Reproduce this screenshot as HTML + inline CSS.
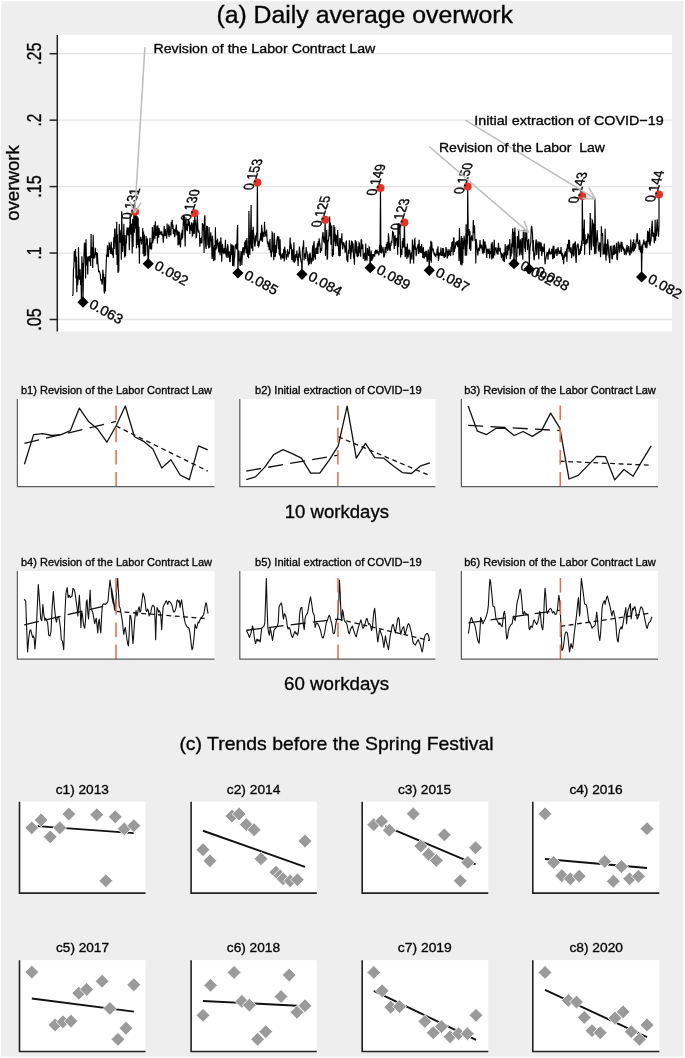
<!DOCTYPE html>
<html><head><meta charset="utf-8"><style>
html,body{margin:0;padding:0;background:#fff;}
svg{display:block;font-family:"Liberation Sans", sans-serif;will-change:transform;}
text{stroke:#111;stroke-width:0.36px;}
</style></head><body>
<svg width="685" height="1058" viewBox="0 0 685 1058">
<rect x="0" y="0" width="685" height="1058" fill="#fff"/>
<rect x="1.2" y="1.2" width="682.3" height="1055.3" fill="#eeeeee"/>
<rect x="57.5" y="35" width="614.5" height="296.5" fill="#fff"/>
<line x1="57.5" x2="672" y1="319.50" y2="319.50" stroke="#e4e4e4" stroke-width="1.3"/>
<line x1="57.5" x2="672" y1="253.05" y2="253.05" stroke="#e4e4e4" stroke-width="1.3"/>
<line x1="57.5" x2="672" y1="186.60" y2="186.60" stroke="#e4e4e4" stroke-width="1.3"/>
<line x1="57.5" x2="672" y1="120.15" y2="120.15" stroke="#e4e4e4" stroke-width="1.3"/>
<line x1="57.5" x2="672" y1="53.70" y2="53.70" stroke="#e4e4e4" stroke-width="1.3"/>
<text x="216.40" y="23.20" font-size="23" textLength="296.50" lengthAdjust="spacingAndGlyphs">(a) Daily average overwork</text>
<line x1="49.6" x2="57.5" y1="319.50" y2="319.50" stroke="#222" stroke-width="1.5"/>
<text x="0.00" y="0.00" font-size="19.5" textLength="22.50" lengthAdjust="spacingAndGlyphs" text-anchor="middle" transform="translate(40.6,319.50) rotate(-90)">.05</text>
<line x1="49.6" x2="57.5" y1="253.05" y2="253.05" stroke="#222" stroke-width="1.5"/>
<text x="0.00" y="0.00" font-size="19.5" textLength="12.80" lengthAdjust="spacingAndGlyphs" text-anchor="middle" transform="translate(40.6,253.05) rotate(-90)">.1</text>
<line x1="49.6" x2="57.5" y1="186.60" y2="186.60" stroke="#222" stroke-width="1.5"/>
<text x="0.00" y="0.00" font-size="19.5" textLength="22.50" lengthAdjust="spacingAndGlyphs" text-anchor="middle" transform="translate(40.6,186.60) rotate(-90)">.15</text>
<line x1="49.6" x2="57.5" y1="120.15" y2="120.15" stroke="#222" stroke-width="1.5"/>
<text x="0.00" y="0.00" font-size="19.5" textLength="12.80" lengthAdjust="spacingAndGlyphs" text-anchor="middle" transform="translate(40.6,120.15) rotate(-90)">.2</text>
<line x1="49.6" x2="57.5" y1="53.70" y2="53.70" stroke="#222" stroke-width="1.5"/>
<text x="0.00" y="0.00" font-size="19.5" textLength="22.50" lengthAdjust="spacingAndGlyphs" text-anchor="middle" transform="translate(40.6,53.70) rotate(-90)">.25</text>
<text x="0.00" y="0.00" font-size="19" textLength="75.70" lengthAdjust="spacingAndGlyphs" text-anchor="middle" transform="translate(19.2,183) rotate(-90)">overwork</text>
<line x1="57.3" x2="57.3" y1="35" y2="331.5" stroke="#222" stroke-width="1.5"/>
<path d="M72.60,296.00 L73.02,294.05 L73.44,269.48 L73.86,267.08 L74.28,250.80 L74.70,260.45 L75.12,261.45 L75.54,249.02 L75.96,278.37 L76.38,256.58 L76.80,292.14 L77.22,275.64 L77.64,285.22 L78.06,279.74 L78.48,247.27 L78.90,265.01 L79.32,279.22 L79.74,279.39 L80.16,269.17 L80.58,285.00 L81.00,276.10 L81.42,303.13 L81.84,256.33 L82.26,268.74 L82.68,262.95 L83.00,302.22 L83.52,267.76 L83.94,257.48 L84.36,244.13 L84.78,242.65 L85.20,254.14 L85.62,278.58 L86.04,239.22 L86.46,265.46 L86.88,257.64 L87.30,256.55 L87.72,274.57 L88.14,258.45 L88.56,257.78 L88.98,256.06 L89.40,261.48 L89.82,258.80 L90.24,255.62 L90.66,266.08 L91.08,234.11 L91.50,257.36 L91.92,257.61 L92.34,247.27 L92.76,268.06 L93.18,234.83 L93.60,252.03 L94.02,258.57 L94.44,254.88 L94.86,257.63 L95.28,247.83 L95.70,254.47 L96.12,254.66 L96.54,252.07 L96.96,264.26 L97.38,252.73 L97.80,262.02 L98.22,266.60 L98.64,272.10 L99.06,270.86 L99.48,270.99 L99.90,273.88 L100.32,274.49 L100.74,279.91 L101.16,280.59 L101.58,280.02 L102.00,284.61 L102.42,282.46 L102.84,269.65 L103.26,275.05 L103.68,274.77 L104.10,291.01 L104.52,293.58 L104.94,276.95 L105.36,291.47 L105.78,275.49 L106.20,264.04 L106.62,254.61 L107.04,256.82 L107.46,245.38 L107.88,250.98 L108.30,257.17 L108.72,252.18 L109.14,243.06 L109.56,243.75 L109.98,249.33 L110.40,249.30 L110.82,253.91 L111.24,241.86 L111.66,254.27 L112.08,247.67 L112.50,255.14 L112.92,253.77 L113.34,258.10 L113.76,237.26 L114.18,249.02 L114.60,229.54 L115.02,228.47 L115.44,239.51 L115.86,246.44 L116.28,254.86 L116.70,221.71 L117.12,264.98 L117.54,234.19 L117.96,272.94 L118.38,270.26 L118.80,270.62 L119.22,223.93 L119.64,240.79 L120.06,242.64 L120.48,235.61 L120.90,229.88 L121.32,259.79 L121.74,211.27 L122.16,237.84 L122.58,251.89 L123.00,234.79 L123.42,245.86 L123.84,223.80 L124.26,247.54 L124.68,257.38 L125.10,235.06 L125.52,256.27 L125.94,243.33 L126.36,243.08 L126.78,230.96 L127.20,227.27 L127.62,232.12 L128.04,235.38 L128.46,228.59 L128.88,228.03 L129.30,250.24 L129.72,235.16 L130.14,214.60 L130.56,222.33 L130.98,234.60 L131.40,223.79 L131.82,233.37 L132.24,253.56 L132.66,218.78 L133.08,246.91 L133.50,222.96 L133.90,214.00 L134.34,232.77 L134.76,218.49 L135.10,211.85 L135.60,228.72 L136.02,210.94 L136.44,248.15 L136.86,238.31 L137.28,216.27 L137.70,244.99 L138.12,217.65 L138.54,247.59 L138.96,226.86 L139.38,263.76 L139.80,238.67 L140.22,241.26 L140.64,236.80 L141.06,240.01 L141.48,244.50 L141.90,239.40 L142.32,242.34 L142.74,228.07 L143.16,253.87 L143.58,231.40 L144.00,256.53 L144.42,234.43 L144.84,256.01 L145.26,244.20 L145.68,255.50 L146.10,236.00 L146.52,244.96 L146.94,240.48 L147.36,238.44 L147.78,254.73 L148.20,263.68 L148.62,256.59 L149.04,245.63 L149.46,245.52 L149.88,237.78 L150.30,249.30 L150.72,242.46 L151.14,248.36 L151.56,249.55 L151.98,240.46 L152.40,226.96 L152.82,243.19 L153.24,231.45 L153.66,240.49 L154.08,224.97 L154.50,233.90 L154.92,238.75 L155.34,221.20 L155.76,230.66 L156.18,235.59 L156.60,232.41 L157.02,225.81 L157.44,243.50 L157.86,225.32 L158.28,233.99 L158.70,237.70 L159.12,228.05 L159.54,234.94 L159.96,230.75 L160.38,232.90 L160.80,233.86 L161.22,234.34 L161.64,231.38 L162.06,234.55 L162.48,234.50 L162.90,237.16 L163.32,242.60 L163.74,235.71 L164.16,226.14 L164.58,232.00 L165.00,236.06 L165.42,229.16 L165.84,235.55 L166.26,236.20 L166.68,238.65 L167.10,223.41 L167.52,232.09 L167.94,229.07 L168.36,235.49 L168.78,224.46 L169.20,237.05 L169.62,226.39 L170.04,234.92 L170.46,230.27 L170.88,235.36 L171.30,222.06 L171.72,225.82 L172.14,219.85 L172.56,228.85 L172.98,224.59 L173.40,234.25 L173.82,231.70 L174.24,228.99 L174.66,237.24 L175.08,234.99 L175.50,230.14 L175.92,228.21 L176.34,224.44 L176.76,234.32 L177.18,233.72 L177.60,230.15 L178.02,245.43 L178.44,231.48 L178.86,244.40 L179.28,231.85 L179.70,242.20 L180.12,244.89 L180.54,247.37 L180.96,235.48 L181.38,232.85 L181.80,239.71 L182.22,229.88 L182.64,238.25 L183.06,227.78 L183.48,215.75 L183.90,225.87 L184.32,216.02 L184.74,231.25 L185.16,246.56 L185.58,222.62 L186.00,217.41 L186.42,230.33 L186.84,224.08 L187.26,231.30 L187.68,227.37 L188.10,219.46 L188.52,225.68 L188.94,220.87 L189.36,221.58 L189.78,234.05 L190.20,224.70 L190.62,229.50 L191.04,229.91 L191.46,222.46 L191.88,224.62 L192.30,235.81 L192.72,235.10 L193.14,222.67 L193.56,233.68 L193.98,219.99 L194.40,233.77 L194.70,213.18 L195.24,224.79 L195.66,220.63 L196.08,237.56 L196.50,237.14 L196.92,227.76 L197.34,215.09 L197.76,224.87 L198.18,232.39 L198.60,229.80 L199.02,232.03 L199.44,233.32 L199.86,246.75 L200.28,237.96 L200.70,243.19 L201.12,240.16 L201.54,237.37 L201.96,243.40 L202.38,223.90 L202.80,224.19 L203.22,230.54 L203.64,224.48 L204.06,253.11 L204.48,218.41 L204.90,215.20 L205.32,236.41 L205.74,246.73 L206.16,248.95 L206.58,225.64 L207.00,233.13 L207.42,225.93 L207.84,245.60 L208.26,238.54 L208.68,248.41 L209.10,226.94 L209.52,247.16 L209.94,246.85 L210.36,239.42 L210.78,232.35 L211.20,239.99 L211.62,241.38 L212.04,258.94 L212.46,235.88 L212.88,242.24 L213.30,256.88 L213.72,261.14 L214.14,247.85 L214.56,245.12 L214.98,260.24 L215.40,227.31 L215.82,250.17 L216.24,240.18 L216.66,248.77 L217.08,246.47 L217.50,238.48 L217.92,245.59 L218.34,242.73 L218.76,252.53 L219.18,245.43 L219.60,241.58 L220.02,255.30 L220.44,248.22 L220.86,237.22 L221.28,244.55 L221.70,261.85 L222.12,249.73 L222.54,243.89 L222.96,250.78 L223.38,252.99 L223.80,252.16 L224.22,248.07 L224.64,253.69 L225.06,248.01 L225.48,239.85 L225.90,254.11 L226.32,256.57 L226.74,248.64 L227.16,257.89 L227.58,244.06 L228.00,246.17 L228.42,253.40 L228.84,257.64 L229.26,251.18 L229.68,261.07 L230.10,262.08 L230.52,256.91 L230.94,244.64 L231.36,245.25 L231.78,255.21 L232.20,244.46 L232.62,265.98 L233.04,259.52 L233.46,245.41 L233.88,266.35 L234.30,258.60 L234.72,256.42 L235.14,246.12 L235.56,244.94 L235.98,244.52 L236.40,248.41 L236.82,248.88 L237.24,230.45 L237.66,225.09 L237.90,272.99 L238.50,252.98 L238.92,250.58 L239.34,261.09 L239.76,259.34 L240.18,265.90 L240.60,258.38 L241.02,251.74 L241.44,251.93 L241.86,265.15 L242.28,255.55 L242.70,248.66 L243.12,247.14 L243.54,251.46 L243.96,255.20 L244.38,250.35 L244.80,241.74 L245.22,248.89 L245.64,240.19 L246.06,252.22 L246.48,253.29 L246.90,237.92 L247.32,246.71 L247.74,257.02 L248.16,250.22 L248.58,258.29 L248.90,210.90 L249.42,239.49 L249.84,254.76 L250.26,243.68 L250.68,231.02 L251.10,205.00 L251.52,248.51 L251.94,229.81 L252.36,241.65 L252.78,251.18 L253.20,226.78 L253.62,233.67 L254.04,236.66 L254.46,242.91 L254.88,246.62 L255.30,243.44 L255.72,235.37 L256.14,241.45 L256.56,233.28 L256.98,232.50 L257.40,182.61 L257.82,245.92 L258.24,240.82 L258.66,246.46 L259.08,245.69 L259.50,241.37 L259.92,240.04 L260.34,237.93 L260.76,232.88 L261.18,240.61 L261.60,224.74 L262.02,229.13 L262.44,242.03 L262.86,232.43 L263.28,233.09 L263.70,233.70 L264.12,237.07 L264.54,221.70 L264.96,232.83 L265.38,233.27 L265.80,236.36 L266.22,231.62 L266.64,230.76 L267.06,238.19 L267.48,243.68 L267.90,240.93 L268.32,247.00 L268.74,242.44 L269.16,250.25 L269.58,243.76 L270.00,239.03 L270.42,252.40 L270.84,250.80 L271.26,257.10 L271.68,252.75 L272.10,232.46 L272.52,233.25 L272.94,251.71 L273.36,247.00 L273.78,260.11 L274.20,232.78 L274.62,240.11 L275.04,257.07 L275.46,255.45 L275.88,245.08 L276.30,252.94 L276.72,241.71 L277.14,238.94 L277.56,236.12 L277.98,237.90 L278.40,249.35 L278.82,236.60 L279.24,254.37 L279.66,254.87 L280.08,239.36 L280.50,256.59 L280.92,259.63 L281.34,255.65 L281.76,256.33 L282.18,253.43 L282.60,257.44 L283.02,258.52 L283.44,252.97 L283.86,248.84 L284.28,261.37 L284.70,246.46 L285.12,253.13 L285.54,250.35 L285.96,256.77 L286.38,259.73 L286.80,254.05 L287.22,255.28 L287.64,249.36 L288.06,257.36 L288.48,252.93 L288.90,253.83 L289.32,253.59 L289.74,247.64 L290.16,237.57 L290.58,248.88 L291.00,243.66 L291.42,248.52 L291.84,260.07 L292.26,250.94 L292.68,250.12 L293.10,261.72 L293.52,252.61 L293.94,242.15 L294.36,262.71 L294.78,256.60 L295.20,261.37 L295.62,254.27 L296.04,257.03 L296.46,256.16 L296.88,250.55 L297.30,258.66 L297.72,257.95 L298.14,265.99 L298.56,253.59 L298.98,258.05 L299.40,246.48 L299.82,251.09 L300.24,254.97 L300.66,258.97 L301.08,261.73 L301.50,261.67 L302.00,274.31 L302.34,251.34 L302.76,247.60 L303.18,248.56 L303.60,240.37 L304.02,260.36 L304.44,256.87 L304.86,253.32 L305.28,255.89 L305.70,259.00 L306.12,246.98 L306.54,252.50 L306.96,251.28 L307.38,255.40 L307.80,260.29 L308.22,261.50 L308.64,265.36 L309.06,254.12 L309.48,264.02 L309.90,252.65 L310.32,255.09 L310.74,259.11 L311.16,264.10 L311.58,258.24 L312.00,261.85 L312.42,248.51 L312.84,245.30 L313.26,260.62 L313.68,243.81 L314.10,241.35 L314.52,257.59 L314.94,252.59 L315.36,259.73 L315.78,247.75 L316.20,248.82 L316.62,254.04 L317.04,247.73 L317.46,243.22 L317.88,254.02 L318.30,240.98 L318.72,246.52 L319.14,238.43 L319.56,242.65 L319.98,244.28 L320.40,252.90 L320.82,248.06 L321.24,249.20 L321.66,251.17 L322.08,239.29 L322.50,236.09 L322.92,231.99 L323.34,237.40 L323.76,242.57 L324.18,236.62 L324.60,243.10 L325.20,219.82 L325.44,255.86 L325.86,243.93 L326.28,246.44 L326.70,229.92 L327.12,259.62 L327.54,258.07 L327.96,239.78 L328.38,241.40 L328.80,237.24 L329.22,228.46 L329.64,216.62 L330.06,236.45 L330.48,222.45 L330.90,244.77 L331.32,237.55 L331.74,225.44 L332.16,255.67 L332.58,256.65 L333.00,249.26 L333.42,255.22 L333.84,225.06 L334.26,241.44 L334.68,226.97 L335.10,240.33 L335.52,246.28 L335.94,235.30 L336.36,235.96 L336.78,240.64 L337.20,246.19 L337.62,229.92 L338.04,237.47 L338.46,248.03 L338.88,255.52 L339.30,255.72 L339.72,238.11 L340.14,255.88 L340.56,245.26 L340.98,238.48 L341.40,243.55 L341.82,233.17 L342.24,243.77 L342.66,249.36 L343.08,246.15 L343.50,242.29 L343.92,243.48 L344.34,245.23 L344.76,247.82 L345.18,252.62 L345.60,250.11 L346.02,241.91 L346.44,241.35 L346.86,260.47 L347.28,255.48 L347.70,262.13 L348.12,255.00 L348.54,249.72 L348.96,254.00 L349.38,240.34 L349.80,247.49 L350.22,246.77 L350.64,259.27 L351.06,253.45 L351.48,240.40 L351.90,252.45 L352.32,241.18 L352.74,248.05 L353.16,243.53 L353.58,258.40 L354.00,255.01 L354.42,264.69 L354.84,248.26 L355.26,240.01 L355.68,246.78 L356.10,253.36 L356.52,241.56 L356.94,256.58 L357.36,252.35 L357.78,257.30 L358.20,246.09 L358.62,255.95 L359.04,242.87 L359.46,243.60 L359.88,252.59 L360.30,251.13 L360.72,256.81 L361.14,239.76 L361.56,239.74 L361.98,249.10 L362.40,245.13 L362.82,244.30 L363.24,259.02 L363.66,253.85 L364.08,256.08 L364.50,252.83 L364.92,261.07 L365.34,257.83 L365.76,243.42 L366.18,259.76 L366.60,254.64 L367.02,260.61 L367.44,247.96 L367.86,252.13 L368.28,253.46 L368.70,255.94 L369.12,246.82 L369.54,247.36 L369.96,262.49 L370.20,267.67 L370.80,256.49 L371.22,250.47 L371.64,260.14 L372.06,260.15 L372.48,254.24 L372.90,258.62 L373.32,254.70 L373.74,254.69 L374.16,254.40 L374.58,256.73 L375.00,251.42 L375.42,250.72 L375.84,254.03 L376.26,251.92 L376.68,253.01 L377.10,249.57 L377.52,252.52 L377.94,251.82 L378.36,251.75 L378.78,255.43 L379.20,252.92 L379.62,244.97 L380.04,252.41 L380.50,187.93 L380.88,253.01 L381.30,245.16 L381.72,253.41 L382.14,248.99 L382.56,251.47 L382.98,246.73 L383.40,251.73 L383.82,257.44 L384.24,256.43 L384.66,254.96 L385.08,246.92 L385.50,250.27 L385.92,252.96 L386.34,243.96 L386.76,248.55 L387.18,242.06 L387.60,250.99 L388.02,247.78 L388.44,233.31 L388.86,237.68 L389.28,250.11 L389.70,242.44 L390.12,251.06 L390.54,244.97 L390.96,246.06 L391.38,240.89 L391.80,243.01 L392.22,238.27 L392.64,230.74 L393.06,235.85 L393.48,232.04 L393.90,243.05 L394.32,249.10 L394.74,236.11 L395.16,235.80 L395.58,245.93 L396.00,240.62 L396.42,238.37 L396.84,238.19 L397.26,240.25 L397.68,254.85 L398.00,224.00 L398.52,246.91 L398.94,223.07 L399.36,232.75 L399.78,233.79 L400.00,226.00 L400.62,257.58 L401.04,249.96 L401.46,250.79 L401.88,254.89 L402.30,240.82 L402.72,247.78 L403.14,238.09 L403.56,240.61 L403.98,247.46 L404.40,222.48 L404.82,244.38 L405.24,257.14 L405.66,253.76 L406.08,246.85 L406.50,248.84 L406.92,258.90 L407.34,243.41 L407.76,255.39 L408.18,257.41 L408.60,250.41 L409.02,249.87 L409.44,254.62 L409.86,250.38 L410.28,263.64 L410.70,254.03 L411.12,253.33 L411.54,254.66 L411.96,259.62 L412.38,239.51 L412.80,251.09 L413.22,245.52 L413.64,263.42 L414.06,247.99 L414.48,239.40 L414.90,238.68 L415.32,249.92 L415.74,246.69 L416.16,256.16 L416.58,252.93 L417.00,249.21 L417.42,247.65 L417.84,245.35 L418.26,243.93 L418.68,253.86 L419.10,239.75 L419.52,249.89 L419.94,251.97 L420.36,252.19 L420.78,246.09 L421.20,252.99 L421.62,244.14 L422.04,253.11 L422.46,247.65 L422.88,258.01 L423.30,247.15 L423.72,252.38 L424.14,258.70 L424.56,254.17 L424.98,251.83 L425.40,256.63 L425.82,250.76 L426.24,257.44 L426.66,250.72 L427.08,261.78 L427.50,260.39 L427.92,257.85 L428.34,249.57 L428.76,255.93 L429.30,270.33 L429.60,257.57 L430.02,246.50 L430.44,260.42 L430.86,240.69 L431.28,262.66 L431.70,241.81 L432.12,248.01 L432.54,249.00 L432.96,250.81 L433.38,249.96 L433.80,252.76 L434.22,254.33 L434.64,252.83 L435.06,255.01 L435.48,255.95 L435.90,256.58 L436.32,254.09 L436.74,253.94 L437.16,248.80 L437.58,255.72 L438.00,246.23 L438.42,260.97 L438.84,258.29 L439.26,252.52 L439.68,254.38 L440.10,254.93 L440.52,254.68 L440.94,247.42 L441.36,256.05 L441.78,252.34 L442.20,255.60 L442.62,247.99 L443.04,256.15 L443.46,248.38 L443.88,256.01 L444.30,257.85 L444.72,255.68 L445.14,252.61 L445.56,257.14 L445.98,246.95 L446.40,251.77 L446.82,248.88 L447.24,258.42 L447.66,256.74 L448.08,250.68 L448.50,256.00 L448.92,249.10 L449.34,254.98 L449.76,250.69 L450.18,253.66 L450.60,256.07 L451.02,246.68 L451.44,252.04 L451.86,241.93 L452.28,246.59 L452.70,241.21 L453.12,255.36 L453.54,238.04 L453.96,237.96 L454.38,251.87 L454.80,246.35 L455.22,248.62 L455.64,243.27 L456.06,243.85 L456.48,241.56 L456.90,245.33 L457.32,240.91 L457.74,246.31 L458.16,245.75 L458.58,240.31 L459.00,260.93 L459.42,227.92 L459.84,241.77 L460.26,257.72 L460.68,264.77 L461.10,242.70 L461.52,235.92 L461.94,265.46 L462.36,238.00 L462.78,263.15 L463.20,240.55 L463.62,249.26 L464.04,235.68 L464.46,239.20 L464.88,242.18 L465.30,255.84 L465.72,242.90 L466.14,224.31 L466.56,255.84 L466.98,245.64 L467.40,242.64 L467.70,186.60 L468.24,234.82 L468.66,234.77 L469.08,229.04 L469.50,249.34 L469.92,231.08 L470.34,249.34 L470.76,250.76 L471.18,237.93 L471.60,235.38 L472.02,240.15 L472.44,238.94 L472.86,241.27 L473.28,220.08 L473.70,233.28 L474.12,230.33 L474.54,225.16 L474.96,240.85 L475.38,238.91 L475.80,263.45 L476.22,239.16 L476.64,243.26 L477.06,248.34 L477.48,250.94 L477.90,255.36 L478.32,250.02 L478.74,247.51 L479.16,249.60 L479.58,250.11 L480.00,240.05 L480.42,246.52 L480.84,248.47 L481.26,246.08 L481.68,244.78 L482.10,248.80 L482.52,252.52 L482.94,253.06 L483.36,239.23 L483.78,241.65 L484.20,252.87 L484.62,245.29 L485.04,241.61 L485.46,247.06 L485.88,246.28 L486.30,252.04 L486.72,257.89 L487.14,248.69 L487.56,250.93 L487.98,249.31 L488.40,253.89 L488.82,250.07 L489.24,248.44 L489.66,258.54 L490.08,251.16 L490.50,252.13 L490.92,254.07 L491.34,243.62 L491.76,259.42 L492.18,241.92 L492.60,250.15 L493.02,258.36 L493.44,256.66 L493.86,246.22 L494.28,239.77 L494.70,255.37 L495.12,249.07 L495.54,248.93 L495.96,247.40 L496.38,250.71 L496.80,252.43 L497.22,254.28 L497.64,247.86 L498.06,254.71 L498.48,242.80 L498.90,249.71 L499.32,250.99 L499.74,250.85 L500.16,247.86 L500.58,252.08 L501.00,254.39 L501.42,258.22 L501.84,253.73 L502.26,254.15 L502.68,254.81 L503.10,261.07 L503.52,257.81 L503.94,252.23 L504.36,262.06 L504.78,255.71 L505.20,244.14 L505.62,254.08 L506.04,253.49 L506.46,258.85 L506.88,245.89 L507.30,253.67 L507.72,255.30 L508.14,244.53 L508.56,251.07 L508.98,244.66 L509.40,247.92 L509.82,239.05 L510.24,259.29 L510.66,248.06 L511.08,256.37 L511.50,243.48 L511.92,253.45 L512.34,235.28 L512.76,228.39 L513.18,247.12 L513.60,231.87 L514.00,263.68 L514.44,248.69 L514.86,227.60 L515.28,236.75 L515.70,248.00 L516.12,262.14 L516.54,255.58 L516.96,256.91 L517.38,236.11 L517.80,248.48 L518.22,245.76 L518.64,230.19 L519.06,245.42 L519.48,255.45 L519.90,244.69 L520.32,239.38 L520.74,249.75 L521.16,255.18 L521.58,242.95 L522.00,237.93 L522.42,250.89 L522.84,259.68 L523.26,232.26 L523.68,230.29 L524.10,230.07 L524.52,248.52 L524.94,241.81 L525.36,251.90 L525.78,230.62 L526.20,240.93 L526.62,230.45 L527.04,242.14 L527.46,250.32 L527.88,240.27 L528.30,246.83 L528.72,238.73 L529.30,269.00 L529.56,256.13 L529.98,248.22 L530.40,244.57 L530.82,242.31 L531.24,228.35 L531.66,225.87 L532.08,229.91 L532.50,233.30 L532.92,251.57 L533.34,240.08 L533.76,256.57 L534.18,260.22 L534.60,254.14 L535.02,254.57 L535.44,247.07 L535.86,241.18 L536.28,239.49 L536.70,254.89 L537.12,243.55 L537.54,248.36 L537.96,241.28 L538.38,252.88 L538.80,259.39 L539.22,242.46 L539.64,244.18 L540.06,241.67 L540.48,251.34 L540.90,242.64 L541.32,244.19 L541.74,256.00 L542.16,252.01 L542.58,246.50 L543.00,248.74 L543.42,252.02 L543.84,250.08 L544.26,243.63 L544.68,257.27 L545.10,264.26 L545.52,259.62 L545.94,258.77 L546.36,255.82 L546.78,253.59 L547.20,251.99 L547.62,254.46 L548.04,259.72 L548.46,252.41 L548.88,250.17 L549.30,249.36 L549.72,253.82 L550.14,253.81 L550.56,252.72 L550.98,253.89 L551.40,253.31 L551.82,248.91 L552.24,250.40 L552.66,259.33 L553.08,245.87 L553.50,258.41 L553.92,245.77 L554.34,257.98 L554.76,252.53 L555.18,253.13 L555.60,251.35 L556.02,248.74 L556.44,250.48 L556.86,255.91 L557.28,253.73 L557.70,249.27 L558.12,247.22 L558.54,250.42 L558.96,253.64 L559.38,253.42 L559.80,251.44 L560.22,250.42 L560.64,254.10 L561.06,247.09 L561.48,254.25 L561.90,256.30 L562.32,252.88 L562.74,260.02 L563.16,255.51 L563.58,264.34 L564.00,255.55 L564.42,256.25 L564.84,253.50 L565.26,251.32 L565.68,255.39 L566.10,256.67 L566.52,248.49 L566.94,261.69 L567.36,244.09 L567.78,247.52 L568.20,248.90 L568.62,239.72 L569.04,252.20 L569.46,239.83 L569.88,249.20 L570.30,248.72 L570.72,252.93 L571.14,247.23 L571.56,258.23 L571.98,255.31 L572.40,253.27 L572.82,246.06 L573.24,243.61 L573.66,256.26 L574.08,254.47 L574.50,242.69 L574.92,245.70 L575.34,241.42 L575.76,258.19 L576.18,262.85 L576.60,251.19 L577.02,245.77 L577.44,246.24 L577.86,243.50 L578.28,245.13 L578.70,255.29 L579.12,253.46 L579.54,253.86 L579.96,248.60 L580.38,253.61 L580.80,245.46 L581.22,251.03 L581.64,240.57 L582.06,245.73 L582.30,195.90 L582.90,240.68 L583.32,228.81 L583.74,243.87 L584.30,219.60 L584.58,254.71 L585.00,234.17 L585.42,243.93 L585.84,244.11 L586.26,243.07 L586.68,239.18 L587.10,243.27 L587.52,237.82 L587.94,234.09 L588.36,234.23 L588.78,236.68 L589.20,241.42 L589.62,255.03 L590.20,213.00 L590.46,222.52 L590.88,235.53 L591.30,250.34 L591.72,243.32 L592.14,219.95 L592.56,220.66 L592.98,225.74 L593.40,246.60 L593.82,223.47 L594.24,246.56 L594.66,254.34 L594.90,198.50 L595.50,237.81 L595.92,253.63 L596.34,242.25 L596.76,236.43 L597.18,230.16 L597.60,239.21 L598.02,243.46 L598.44,250.66 L598.86,250.96 L599.28,246.90 L599.70,242.42 L600.12,246.22 L600.54,257.21 L600.96,249.69 L601.38,226.15 L601.80,235.82 L602.22,234.15 L602.64,232.98 L603.06,253.12 L603.48,252.37 L603.90,254.25 L604.32,243.63 L604.74,254.51 L605.16,228.77 L605.58,250.89 L606.00,260.66 L606.42,243.68 L606.84,255.53 L607.26,250.53 L607.68,239.24 L608.10,243.70 L608.52,248.61 L608.94,256.52 L609.36,258.55 L609.78,263.06 L610.20,247.12 L610.62,247.76 L611.04,245.50 L611.46,250.94 L611.88,258.33 L612.30,259.40 L612.72,254.56 L613.14,245.63 L613.56,249.63 L613.98,254.93 L614.40,244.88 L614.82,247.49 L615.24,253.28 L615.66,252.97 L616.08,252.79 L616.50,242.86 L616.92,259.23 L617.34,259.47 L617.76,253.85 L618.18,242.11 L618.60,242.15 L619.02,244.37 L619.44,252.53 L619.86,250.10 L620.28,244.73 L620.70,246.77 L621.12,241.64 L621.54,251.98 L621.96,242.00 L622.38,246.10 L622.80,249.30 L623.22,246.58 L623.64,250.78 L624.06,248.90 L624.48,254.92 L624.90,248.51 L625.32,253.52 L625.74,252.51 L626.16,255.27 L626.58,248.33 L627.00,244.86 L627.42,251.20 L627.84,251.93 L628.26,250.05 L628.68,246.17 L629.10,249.33 L629.52,254.15 L629.94,255.30 L630.36,252.42 L630.78,239.47 L631.20,250.96 L631.62,252.08 L632.04,249.87 L632.46,247.11 L632.88,241.99 L633.30,251.61 L633.72,239.26 L634.14,251.06 L634.56,243.27 L634.98,248.22 L635.40,248.02 L635.82,246.02 L636.24,240.45 L636.66,240.82 L637.08,233.17 L637.50,235.40 L637.92,244.00 L638.34,242.59 L638.76,243.28 L639.18,250.00 L639.60,239.85 L640.02,243.76 L640.44,252.42 L640.86,247.30 L641.28,246.79 L641.60,276.97 L642.12,244.48 L642.54,253.05 L642.96,244.46 L643.38,242.75 L643.80,239.58 L644.22,244.49 L644.64,243.05 L645.06,244.50 L645.48,247.80 L645.90,241.56 L646.32,241.31 L646.74,248.17 L647.16,245.91 L647.58,230.86 L648.00,234.24 L648.42,242.09 L648.84,231.63 L649.26,244.39 L649.68,228.00 L650.10,245.67 L650.52,240.34 L650.94,241.53 L651.36,235.05 L651.78,226.99 L652.20,220.66 L652.62,234.57 L653.04,236.85 L653.46,233.21 L653.88,233.68 L654.30,243.35 L654.72,238.35 L655.14,219.64 L655.56,240.81 L655.98,228.50 L656.40,236.35 L656.82,224.68 L657.24,219.36 L657.66,228.55 L658.08,232.60 L658.50,236.62 L659.00,226.00 L659.00,194.57" fill="none" stroke="#000" stroke-width="1.15" stroke-linejoin="miter"/>
<path d="M83,296.62 L88.6,302.22 L83,307.82 L77.4,302.22Z" fill="#000"/>
<text x="0.00" y="0.00" font-size="13.8" textLength="36.00" lengthAdjust="spacingAndGlyphs" transform="translate(88.30,307.12) rotate(29)">0.063</text>
<path d="M148.2,258.08 L153.79999999999998,263.68 L148.2,269.28 L142.6,263.68Z" fill="#000"/>
<text x="0.00" y="0.00" font-size="13.8" textLength="36.00" lengthAdjust="spacingAndGlyphs" transform="translate(153.50,268.58) rotate(29)">0.092</text>
<path d="M237.9,267.38 L243.5,272.99 L237.9,278.59 L232.3,272.99Z" fill="#000"/>
<text x="0.00" y="0.00" font-size="13.8" textLength="36.00" lengthAdjust="spacingAndGlyphs" transform="translate(243.20,277.88) rotate(29)">0.085</text>
<path d="M302,268.71 L307.6,274.31 L302,279.91 L296.4,274.31Z" fill="#000"/>
<text x="0.00" y="0.00" font-size="13.8" textLength="36.00" lengthAdjust="spacingAndGlyphs" transform="translate(307.30,279.21) rotate(29)">0.084</text>
<path d="M370.2,262.07 L375.8,267.67 L370.2,273.27 L364.59999999999997,267.67Z" fill="#000"/>
<text x="0.00" y="0.00" font-size="13.8" textLength="36.00" lengthAdjust="spacingAndGlyphs" transform="translate(375.50,272.57) rotate(29)">0.089</text>
<path d="M429.3,264.73 L434.90000000000003,270.33 L429.3,275.93 L423.7,270.33Z" fill="#000"/>
<text x="0.00" y="0.00" font-size="13.8" textLength="36.00" lengthAdjust="spacingAndGlyphs" transform="translate(434.60,275.23) rotate(29)">0.087</text>
<path d="M514,258.08 L519.6,263.68 L514,269.28 L508.4,263.68Z" fill="#000"/>
<text x="0.00" y="0.00" font-size="13.8" textLength="36.00" lengthAdjust="spacingAndGlyphs" transform="translate(519.30,268.58) rotate(29)">0.092</text>
<path d="M529.3,263.40 L534.9,269.00 L529.3,274.60 L523.6999999999999,269.00Z" fill="#000"/>
<text x="0.00" y="0.00" font-size="13.8" textLength="36.00" lengthAdjust="spacingAndGlyphs" transform="translate(534.60,273.90) rotate(29)">0.088</text>
<path d="M641.6,271.37 L647.2,276.97 L641.6,282.57 L636.0,276.97Z" fill="#000"/>
<text x="0.00" y="0.00" font-size="13.8" textLength="36.00" lengthAdjust="spacingAndGlyphs" transform="translate(646.90,281.87) rotate(29)">0.082</text>
<circle cx="135.1" cy="211.85" r="4" fill="#e3342a"/>
<text x="0.00" y="0.00" font-size="13.8" textLength="33.00" lengthAdjust="spacingAndGlyphs" transform="translate(130.40,219.55) rotate(-72) skewX(16.0)">0.131</text>
<circle cx="194.7" cy="213.18" r="4" fill="#e3342a"/>
<text x="0.00" y="0.00" font-size="13.8" textLength="33.00" lengthAdjust="spacingAndGlyphs" transform="translate(190.00,220.88) rotate(-72) skewX(16.0)">0.130</text>
<circle cx="257.4" cy="182.61" r="4" fill="#e3342a"/>
<text x="0.00" y="0.00" font-size="13.8" textLength="33.00" lengthAdjust="spacingAndGlyphs" transform="translate(252.70,190.31) rotate(-72) skewX(16.0)">0.153</text>
<circle cx="325.2" cy="219.82" r="4" fill="#e3342a"/>
<text x="0.00" y="0.00" font-size="13.8" textLength="33.00" lengthAdjust="spacingAndGlyphs" transform="translate(320.50,227.52) rotate(-72) skewX(16.0)">0.125</text>
<circle cx="380.5" cy="187.93" r="4" fill="#e3342a"/>
<text x="0.00" y="0.00" font-size="13.8" textLength="33.00" lengthAdjust="spacingAndGlyphs" transform="translate(375.80,195.63) rotate(-72) skewX(16.0)">0.149</text>
<circle cx="404.4" cy="222.48" r="4" fill="#e3342a"/>
<text x="0.00" y="0.00" font-size="13.8" textLength="33.00" lengthAdjust="spacingAndGlyphs" transform="translate(399.70,230.18) rotate(-72) skewX(16.0)">0.123</text>
<circle cx="467.7" cy="186.60" r="4" fill="#e3342a"/>
<text x="0.00" y="0.00" font-size="13.8" textLength="33.00" lengthAdjust="spacingAndGlyphs" transform="translate(463.00,194.30) rotate(-72) skewX(16.0)">0.150</text>
<circle cx="582.3" cy="195.90" r="4" fill="#e3342a"/>
<text x="0.00" y="0.00" font-size="13.8" textLength="33.00" lengthAdjust="spacingAndGlyphs" transform="translate(577.60,203.60) rotate(-72) skewX(16.0)">0.143</text>
<circle cx="659.0" cy="194.57" r="4" fill="#e3342a"/>
<text x="0.00" y="0.00" font-size="13.8" textLength="33.00" lengthAdjust="spacingAndGlyphs" transform="translate(654.30,202.27) rotate(-72) skewX(16.0)">0.144</text>
<line x1="144.9" y1="47.4" x2="134.8" y2="212.9" stroke="#bdbdbd" stroke-width="1.5"/>
<line x1="134.8" y1="212.9" x2="129.82" y2="201.98" stroke="#bdbdbd" stroke-width="1.5"/>
<line x1="134.8" y1="212.9" x2="141.07" y2="202.67" stroke="#bdbdbd" stroke-width="1.5"/>
<line x1="465.5" y1="120.2" x2="595.4" y2="198.9" stroke="#bdbdbd" stroke-width="1.5"/>
<line x1="595.4" y1="198.9" x2="582.42" y2="198.17" stroke="#bdbdbd" stroke-width="1.5"/>
<line x1="595.4" y1="198.9" x2="588.75" y2="187.73" stroke="#bdbdbd" stroke-width="1.5"/>
<line x1="429.5" y1="146.8" x2="528.5" y2="232.2" stroke="#bdbdbd" stroke-width="1.5"/>
<line x1="528.5" y1="232.2" x2="516.80" y2="229.55" stroke="#bdbdbd" stroke-width="1.5"/>
<line x1="528.5" y1="232.2" x2="524.16" y2="221.01" stroke="#bdbdbd" stroke-width="1.5"/>
<text x="153.40" y="52.50" font-size="13.6" textLength="222.00" lengthAdjust="spacingAndGlyphs">Revision of the Labor Contract Law</text>
<text x="474.30" y="125.30" font-size="13.6" textLength="189.50" lengthAdjust="spacingAndGlyphs">Initial extraction of COVID−19</text>
<text x="439.00" y="151.60" font-size="13.6" textLength="166.00" lengthAdjust="spacingAndGlyphs">Revision of the Labor&#160; Law</text>
<rect x="17.7" y="399" width="196.8" height="87.69999999999999" fill="#fff"/>
<text x="21.00" y="393.70" font-size="11.8" textLength="191.00" lengthAdjust="spacingAndGlyphs">b1) Revision of the Labor Contract Law</text>
<rect x="240.1" y="399" width="195.29999999999998" height="87.69999999999999" fill="#fff"/>
<text x="255.10" y="393.70" font-size="11.8" textLength="166.50" lengthAdjust="spacingAndGlyphs">b2) Initial extraction of COVID−19</text>
<rect x="461.7" y="399" width="196.3" height="87.69999999999999" fill="#fff"/>
<text x="464.20" y="393.70" font-size="11.8" textLength="191.60" lengthAdjust="spacingAndGlyphs">b3) Revision of the Labor Contract Law</text>
<rect x="17.7" y="571" width="196.8" height="88.20000000000005" fill="#fff"/>
<text x="21.00" y="565.90" font-size="11.8" textLength="191.00" lengthAdjust="spacingAndGlyphs">b4) Revision of the Labor Contract Law</text>
<rect x="240.1" y="571" width="195.29999999999998" height="88.20000000000005" fill="#fff"/>
<text x="255.10" y="565.90" font-size="11.8" textLength="166.50" lengthAdjust="spacingAndGlyphs">b5) Initial extraction of COVID−19</text>
<rect x="461.7" y="571" width="196.3" height="88.20000000000005" fill="#fff"/>
<text x="464.20" y="565.90" font-size="11.8" textLength="191.60" lengthAdjust="spacingAndGlyphs">b6) Revision of the Labor Contract Law</text>
<path d="M24.41,443.46 L116.07,421.39" fill="none" stroke="#111" stroke-width="1.3" stroke-linejoin="round" stroke-dasharray="15 7.3"/>
<path d="M116.07,425.98 L207.73,471.05" fill="none" stroke="#111" stroke-width="1.3" stroke-linejoin="round" stroke-dasharray="4.8 3.6"/>
<path d="M24.41,464.30 L33.61,434.57 L42.80,433.65 L52.00,435.49 L61.20,434.57 L70.39,430.58 L79.28,408.20 L88.48,421.39 L97.68,429.05 L106.87,442.23 L116.07,425.98 L125.27,406.06 L134.46,436.71 L143.66,441.31 L152.86,448.98 L161.75,467.98 L170.94,459.71 L180.14,475.03 L189.34,479.63 L198.53,445.91 L207.73,449.90" fill="none" stroke="#111" stroke-width="1.3" stroke-linejoin="round"/>
<line x1="116.1" x2="116.1" y1="405.5" y2="486.7" stroke="#e66a52" stroke-width="1.5" stroke-dasharray="14.6 7.6"/>
<path d="M17.4,399 L17.4,486.7 L214.5,486.7" fill="none" stroke="#5e5e5e" stroke-width="1.25"/>
<path d="M246.25,471.05 L338.22,455.11" fill="none" stroke="#111" stroke-width="1.3" stroke-linejoin="round" stroke-dasharray="15 7.3"/>
<path d="M338.22,436.71 L429.88,475.65" fill="none" stroke="#111" stroke-width="1.3" stroke-linejoin="round" stroke-dasharray="4.8 3.6"/>
<path d="M246.25,479.63 L255.44,476.87 L264.64,467.37 L273.84,454.49 L283.03,449.59 L292.23,453.57 L301.43,458.17 L310.63,473.19 L319.82,473.19 L329.02,460.32 L338.22,445.91 L347.11,406.06 L356.30,458.17 L365.50,443.46 L374.70,457.56 L383.89,458.17 L393.09,465.84 L402.29,472.58 L411.48,473.50 L420.68,465.84 L429.88,462.77" fill="none" stroke="#111" stroke-width="1.3" stroke-linejoin="round"/>
<line x1="337.9" x2="337.9" y1="405.5" y2="486.7" stroke="#e66a52" stroke-width="1.5" stroke-dasharray="14.6 7.6"/>
<path d="M239.79999999999998,399 L239.79999999999998,486.7 L435.4,486.7" fill="none" stroke="#5e5e5e" stroke-width="1.25"/>
<path d="M468.18,425.37 L559.84,430.58" fill="none" stroke="#111" stroke-width="1.3" stroke-linejoin="round" stroke-dasharray="15 7.3"/>
<path d="M559.84,461.24 L651.20,465.22" fill="none" stroke="#111" stroke-width="1.3" stroke-linejoin="round" stroke-dasharray="4.8 3.6"/>
<path d="M468.18,406.06 L477.38,431.20 L486.58,434.57 L495.77,428.44 L504.97,428.13 L514.17,435.49 L523.06,431.50 L532.25,436.41 L541.45,430.58 L550.65,413.11 L559.84,428.13 L569.04,479.02 L578.24,475.34 L587.43,465.84 L596.63,456.33 L605.52,456.64 L614.72,479.94 L623.91,469.52 L633.11,476.26 L642.31,460.32 L651.20,445.91" fill="none" stroke="#111" stroke-width="1.3" stroke-linejoin="round"/>
<line x1="560.2" x2="560.2" y1="405.5" y2="486.7" stroke="#e66a52" stroke-width="1.5" stroke-dasharray="14.6 7.6"/>
<path d="M461.4,399 L461.4,486.7 L658,486.7" fill="none" stroke="#5e5e5e" stroke-width="1.25"/>
<path d="M24.20,624.87 L103.14,606.33" fill="none" stroke="#111" stroke-width="1.3" stroke-linejoin="round" stroke-dasharray="15 7.3"/>
<path d="M116.13,611.39 L208.10,618.74" fill="none" stroke="#111" stroke-width="1.3" stroke-linejoin="round" stroke-dasharray="4.8 3.6"/>
<path d="M24.20,599.12 L25.73,601.42 L26.50,623.65 L27.57,652.00 L28.80,637.44 L29.87,630.55 L30.79,629.78 L31.86,634.38 L32.63,637.44 L33.39,635.91 L34.16,638.21 L34.93,648.94 L36.00,635.91 L37.23,608.32 L38.30,584.56 L39.52,600.66 L40.75,619.05 L41.82,620.58 L42.90,604.49 L43.82,614.45 L44.89,620.58 L45.66,618.28 L46.73,620.58 L47.65,622.88 L48.72,635.14 L49.95,635.91 L51.02,631.31 L52.09,608.32 L53.32,591.46 L54.55,608.32 L55.62,618.28 L56.39,622.12 L57.46,617.52 L58.68,616.75 L59.45,620.58 L60.52,628.25 L61.29,639.74 L62.52,641.28 L63.74,649.71 L64.82,615.98 L65.89,593.76 L67.12,587.63 L68.19,597.59 L69.11,595.29 L70.18,597.59 L70.95,596.82 L72.02,596.06 L72.94,588.39 L74.01,589.16 L75.09,592.99 L76.01,600.66 L77.08,607.55 L77.84,615.98 L78.61,605.25 L79.38,595.29 L80.14,608.32 L80.91,627.48 L81.68,611.39 L82.44,614.45 L83.21,622.12 L83.98,626.71 L84.74,628.25 L85.51,620.58 L86.28,602.19 L87.04,599.89 L87.81,612.92 L88.57,619.05 L89.34,604.49 L90.11,589.93 L90.87,606.79 L91.64,609.85 L92.41,611.39 L93.17,614.45 L93.94,619.05 L94.71,623.65 L95.47,620.58 L96.24,618.28 L97.00,625.18 L97.77,632.84 L98.54,622.12 L99.30,619.05 L100.07,628.25 L100.84,632.84 L101.60,615.98 L102.37,605.25 L103.90,603.72 L105.44,604.49 L106.97,602.96 L108.04,600.66 L108.96,589.93 L110.03,579.96 L111.11,588.39 L112.03,597.59 L113.10,602.96 L113.87,604.49 L114.63,609.09 L115.40,610.62 L111.53,588.39 L113.07,597.59 L114.60,609.85 L115.82,602.96 L116.90,585.33 L117.66,578.43 L118.43,591.46 L119.20,606.79 L119.96,607.55 L120.73,611.39 L121.50,615.98 L122.26,620.58 L123.03,628.25 L123.80,634.38 L124.56,629.78 L125.33,627.48 L126.09,632.84 L126.86,638.98 L127.63,643.57 L128.39,645.87 L129.16,634.38 L129.93,615.22 L130.69,615.98 L131.46,620.58 L132.23,634.38 L132.99,643.57 L133.76,634.38 L134.52,622.12 L135.29,614.45 L136.06,610.62 L136.82,615.98 L137.59,613.68 L138.36,609.09 L139.12,606.79 L139.89,612.15 L140.66,611.39 L141.42,605.25 L142.19,599.12 L142.96,592.99 L143.72,595.29 L144.49,597.59 L145.25,602.96 L146.02,610.62 L146.79,611.39 L147.55,609.09 L148.32,610.62 L149.09,615.98 L149.85,613.68 L150.62,612.92 L151.39,609.09 L152.15,606.02 L152.92,605.25 L153.68,606.02 L154.45,606.79 L155.22,623.65 L155.68,639.74 L156.29,619.05 L157.06,607.55 L157.82,609.09 L158.59,612.15 L159.36,610.62 L160.12,612.15 L160.89,617.52 L161.66,629.78 L162.42,616.75 L163.19,606.79 L163.95,605.25 L164.72,603.72 L165.49,602.19 L166.25,600.66 L167.02,602.19 L167.79,604.49 L168.55,601.42 L169.32,601.42 L170.09,602.19 L170.85,602.96 L171.62,604.49 L172.39,606.79 L173.15,610.62 L173.92,612.15 L174.68,611.39 L175.45,609.85 L176.22,606.79 L176.98,600.66 L177.75,599.89 L178.52,602.19 L179.28,600.66 L180.05,607.55 L180.82,602.96 L181.58,599.89 L182.35,605.25 L183.11,611.39 L183.88,615.98 L184.65,620.58 L185.41,623.65 L186.18,625.18 L186.95,626.71 L188.17,627.48 L188.94,628.25 L189.71,631.31 L190.47,637.44 L191.24,644.34 L192.00,649.71 L192.77,648.17 L193.54,642.04 L194.30,634.38 L195.07,624.41 L195.84,627.48 L196.60,628.25 L197.37,625.18 L198.14,622.12 L198.90,622.88 L199.67,620.58 L200.44,619.05 L201.20,618.28 L201.97,616.75 L202.73,615.98 L203.50,615.22 L204.27,611.39 L205.03,606.79 L205.80,602.96 L206.57,603.72 L207.33,609.85 L208.10,613.68" fill="none" stroke="#111" stroke-width="1.1" stroke-linejoin="round"/>
<line x1="116.0" x2="116.0" y1="578" y2="659.2" stroke="#e66a52" stroke-width="1.5" stroke-dasharray="14.6 7.6"/>
<path d="M17.4,571 L17.4,659.2 L214.5,659.2" fill="none" stroke="#5e5e5e" stroke-width="1.25"/>
<path d="M246.43,630.24 L337.94,619.05" fill="none" stroke="#111" stroke-width="1.3" stroke-linejoin="round" stroke-dasharray="15 7.3"/>
<path d="M338.06,619.05 L429.57,640.51" fill="none" stroke="#111" stroke-width="1.3" stroke-linejoin="round" stroke-dasharray="4.8 3.6"/>
<path d="M246.43,630.55 L247.96,633.61 L249.50,637.44 L251.03,632.84 L252.56,625.95 L253.33,629.01 L254.09,635.91 L254.86,640.51 L255.63,643.57 L256.39,640.51 L257.16,638.98 L257.93,641.28 L258.69,639.74 L259.46,640.51 L260.23,642.04 L260.99,634.38 L261.76,628.25 L262.52,627.48 L264.06,625.95 L264.82,622.88 L265.59,600.66 L266.36,578.43 L267.12,608.32 L267.89,628.25 L268.66,632.84 L269.42,635.14 L270.19,628.25 L270.96,631.31 L271.72,635.91 L272.49,640.51 L273.25,635.91 L274.02,630.55 L274.79,629.01 L275.55,628.25 L277.09,626.71 L278.16,622.88 L279.08,606.79 L280.15,604.49 L281.38,602.96 L282.14,606.79 L282.91,615.98 L283.52,619.05 L284.29,613.68 L285.06,614.45 L285.82,616.75 L286.59,620.58 L287.36,626.71 L288.12,629.01 L288.89,627.48 L289.66,628.25 L290.42,630.55 L291.19,634.38 L291.95,636.68 L292.72,637.44 L293.49,635.14 L294.25,632.84 L295.02,631.31 L295.79,633.61 L296.55,632.84 L297.32,635.14 L298.09,633.61 L298.85,626.71 L299.62,614.45 L300.39,609.09 L301.15,607.55 L301.92,607.55 L302.68,617.52 L303.45,625.18 L304.22,629.78 L304.98,619.05 L305.75,615.98 L306.52,614.45 L307.28,613.68 L308.05,610.62 L308.82,605.25 L309.74,600.66 L310.50,596.82 L311.27,601.42 L312.03,606.02 L312.80,612.15 L313.57,613.68 L314.33,615.98 L315.10,627.48 L315.87,624.41 L316.63,622.88 L317.71,623.65 L318.47,625.18 L319.24,626.71 L320.00,629.01 L320.77,631.31 L321.54,635.14 L322.30,637.44 L323.07,638.21 L323.84,635.91 L324.60,632.84 L325.37,628.25 L326.14,623.65 L326.90,621.35 L327.67,619.82 L328.44,616.75 L329.20,615.22 L329.97,616.75 L330.73,619.82 L331.50,622.88 L332.27,626.71 L333.03,632.84 L333.80,633.61 L334.57,632.84 L335.33,627.48 L336.10,622.12 L336.87,619.82 L337.63,619.05 L338.82,600.66 L339.44,579.96 L340.20,592.99 L340.97,614.45 L341.74,620.58 L342.50,609.85 L343.27,612.92 L344.04,619.05 L344.80,621.35 L345.57,622.12 L346.34,622.88 L347.10,625.18 L347.87,629.01 L348.63,632.84 L349.40,633.61 L350.17,630.55 L350.93,628.25 L351.70,627.48 L352.47,625.95 L353.23,629.01 L354.00,631.31 L354.77,633.61 L355.53,635.91 L356.30,636.68 L357.06,632.84 L357.83,629.78 L358.60,626.71 L359.36,624.41 L360.13,622.12 L360.90,619.82 L361.66,622.88 L362.43,627.48 L363.20,628.25 L363.96,626.71 L364.73,625.18 L365.50,622.12 L366.26,619.05 L367.03,618.28 L367.79,621.35 L368.56,624.41 L369.33,623.65 L370.09,624.41 L370.86,627.48 L371.63,630.55 L372.39,627.48 L373.16,619.05 L373.93,611.39 L374.69,608.32 L375.46,615.98 L376.23,628.25 L376.99,634.38 L377.76,642.04 L378.52,637.44 L379.29,631.31 L380.06,629.78 L380.82,632.84 L381.59,634.38 L382.36,637.44 L383.12,642.04 L383.89,647.41 L384.66,642.04 L385.42,635.91 L386.19,640.51 L386.95,643.57 L387.72,646.64 L388.49,649.71 L389.25,643.57 L390.02,637.44 L390.79,632.84 L391.55,629.01 L392.32,625.18 L393.09,624.41 L393.85,626.71 L394.62,630.55 L395.39,632.84 L396.15,628.25 L396.92,623.65 L397.68,619.05 L398.45,617.52 L399.22,619.82 L399.98,629.78 L400.75,634.38 L401.52,631.31 L402.28,629.01 L403.05,627.48 L403.82,626.71 L404.58,632.84 L405.35,634.38 L406.11,630.55 L406.88,628.25 L407.65,625.18 L408.41,623.65 L409.18,624.41 L409.95,626.71 L410.71,629.78 L411.48,632.84 L412.25,637.44 L413.01,642.04 L413.78,643.57 L414.55,644.34 L415.31,645.11 L416.08,643.57 L416.84,642.04 L417.61,640.51 L418.38,639.74 L419.14,642.04 L419.91,643.57 L420.68,645.87 L421.44,649.71 L422.21,652.00 L422.98,648.17 L423.74,642.04 L424.51,637.44 L425.27,635.14 L426.04,634.38 L426.81,633.61 L427.57,633.61 L428.34,635.14 L429.11,638.21 L429.57,640.51" fill="none" stroke="#111" stroke-width="1.1" stroke-linejoin="round"/>
<line x1="338.0" x2="338.0" y1="578" y2="659.2" stroke="#e66a52" stroke-width="1.5" stroke-dasharray="14.6 7.6"/>
<path d="M239.79999999999998,571 L239.79999999999998,659.2 L435.4,659.2" fill="none" stroke="#5e5e5e" stroke-width="1.25"/>
<path d="M468.43,622.88 L560.40,610.16" fill="none" stroke="#111" stroke-width="1.3" stroke-linejoin="round" stroke-dasharray="15 7.3"/>
<path d="M560.36,626.41 L651.87,612.92" fill="none" stroke="#111" stroke-width="1.3" stroke-linejoin="round" stroke-dasharray="4.8 3.6"/>
<path d="M468.43,633.61 L469.20,628.25 L469.96,622.12 L470.73,619.05 L471.50,617.52 L472.26,619.82 L473.03,622.12 L473.80,622.88 L474.56,624.41 L475.33,627.48 L476.09,631.31 L476.86,635.91 L477.63,639.74 L478.39,642.04 L479.16,643.27 L479.93,631.31 L480.69,617.52 L481.46,619.05 L482.23,622.88 L482.99,623.65 L483.76,622.12 L484.52,620.58 L485.29,619.05 L486.06,616.75 L486.82,614.45 L487.59,611.39 L488.36,605.25 L489.12,589.93 L489.89,579.20 L490.66,582.26 L491.42,589.93 L492.19,597.59 L492.96,606.02 L493.72,606.79 L494.49,606.79 L495.25,612.92 L496.02,619.05 L496.79,619.82 L497.55,621.35 L498.32,622.88 L499.09,624.41 L499.85,622.88 L500.62,624.41 L501.39,625.95 L502.15,626.71 L502.92,620.58 L503.68,613.68 L504.45,611.39 L505.22,615.98 L505.98,631.31 L506.75,638.98 L507.52,637.44 L508.28,631.31 L509.05,628.25 L509.82,626.71 L510.58,625.18 L511.35,624.41 L512.12,623.65 L512.88,619.05 L513.65,615.98 L514.41,619.05 L515.18,620.58 L515.95,614.45 L516.71,605.25 L517.48,600.66 L518.25,598.36 L519.01,594.52 L519.78,589.93 L520.55,589.16 L521.31,596.06 L522.08,603.72 L522.84,613.68 L523.61,614.45 L524.38,611.39 L525.14,612.92 L525.91,614.45 L526.68,613.68 L527.44,615.22 L528.21,614.45 L528.98,628.25 L529.74,629.78 L530.51,626.71 L531.28,625.95 L532.04,627.48 L532.81,625.18 L533.57,620.58 L534.34,619.82 L535.11,622.12 L535.87,622.88 L536.64,624.41 L537.41,622.88 L538.17,620.58 L538.94,616.75 L539.71,611.39 L540.47,614.45 L541.24,623.65 L542.00,627.48 L542.77,629.78 L543.54,620.58 L544.30,600.66 L545.07,588.39 L545.84,596.06 L546.60,611.39 L547.37,613.68 L548.14,611.39 L548.90,609.85 L549.67,609.09 L550.44,608.32 L551.20,609.09 L551.97,611.39 L552.73,612.92 L553.50,611.39 L554.27,612.15 L555.03,614.45 L555.80,614.45 L556.57,612.92 L557.33,610.62 L558.10,602.19 L558.87,595.29 L559.63,600.66 L560.40,611.39 L561.13,631.31 L561.90,650.47 L562.66,649.71 L563.43,646.64 L564.20,640.51 L564.96,634.38 L565.73,632.08 L566.50,632.08 L567.26,632.84 L568.03,637.44 L568.80,645.11 L569.56,652.00 L570.33,647.41 L571.09,643.57 L571.86,646.64 L572.63,648.17 L573.39,642.04 L574.16,634.38 L574.93,628.25 L575.69,622.12 L576.46,615.98 L577.23,608.32 L577.99,600.66 L578.45,597.59 L579.06,608.32 L579.52,615.98 L579.98,612.92 L580.60,592.99 L581.36,578.43 L582.13,583.80 L582.90,589.93 L583.66,596.06 L584.43,602.96 L585.20,604.49 L585.96,604.49 L586.73,606.02 L587.50,611.39 L588.26,617.52 L589.03,622.88 L589.79,622.12 L590.56,623.65 L591.33,625.95 L592.09,628.25 L592.86,626.71 L593.63,626.71 L594.39,625.95 L595.16,625.18 L595.93,619.05 L596.69,612.15 L597.46,619.05 L598.23,629.78 L598.99,635.91 L599.76,640.51 L600.52,634.38 L601.29,622.12 L602.06,608.32 L602.82,603.72 L603.59,602.19 L604.36,600.66 L605.12,604.49 L605.89,600.66 L606.66,597.59 L607.42,596.06 L608.19,599.12 L608.95,602.19 L609.72,605.25 L610.49,608.32 L611.25,612.92 L612.02,615.98 L612.79,611.39 L613.55,610.62 L614.32,614.45 L615.09,617.52 L615.85,623.65 L616.62,634.38 L617.39,640.51 L618.15,642.04 L618.92,634.38 L619.68,629.78 L620.45,628.25 L621.22,626.71 L621.98,629.01 L622.75,625.18 L623.52,620.58 L624.28,615.98 L625.05,612.15 L625.82,607.55 L626.58,623.65 L627.35,614.45 L628.11,609.85 L628.88,608.32 L629.65,605.25 L630.41,603.72 L631.18,619.05 L631.95,612.92 L632.71,608.32 L633.48,609.85 L634.25,606.79 L635.01,606.79 L635.78,611.39 L636.55,615.98 L637.31,619.05 L638.08,617.52 L638.84,614.45 L639.61,611.39 L640.38,608.32 L641.14,606.79 L641.91,607.55 L642.68,609.09 L643.44,612.92 L644.21,615.98 L644.98,619.82 L645.74,623.65 L646.51,627.48 L647.27,628.25 L648.04,625.18 L648.81,622.88 L649.57,622.12 L650.34,621.35 L651.11,619.05 L651.87,616.75" fill="none" stroke="#111" stroke-width="1.1" stroke-linejoin="round"/>
<line x1="560.4" x2="560.4" y1="578" y2="659.2" stroke="#e66a52" stroke-width="1.5" stroke-dasharray="14.6 7.6"/>
<path d="M461.4,571 L461.4,659.2 L658,659.2" fill="none" stroke="#5e5e5e" stroke-width="1.25"/>
<text x="284.80" y="518.00" font-size="18.7" textLength="104.20" lengthAdjust="spacingAndGlyphs">10 workdays</text>
<text x="284.00" y="690.20" font-size="18.7" textLength="105.00" lengthAdjust="spacingAndGlyphs">60 workdays</text>
<text x="179.40" y="750.20" font-size="19" textLength="314.20" lengthAdjust="spacingAndGlyphs">(c) Trends before the Spring Festival</text>
<rect x="19.5" y="801.7" width="126.0" height="91.39999999999998" fill="#fff"/>
<text x="55.80" y="793.60" font-size="13.7" textLength="53.10" lengthAdjust="spacingAndGlyphs">c1) 2013</text>
<path d="M37.52,826.12 L133.84,833.10" fill="none" stroke="#111" stroke-width="1.9" stroke-linejoin="round"/>
<path d="M31.80,820.91 L38.70,827.81 L31.80,834.71 L24.90,827.81Z" fill="#9a9a9a" stroke="#fff" stroke-width="0.8"/>
<path d="M41.12,813.08 L48.02,819.98 L41.12,826.88 L34.22,819.98Z" fill="#9a9a9a" stroke="#fff" stroke-width="0.8"/>
<path d="M50.22,830.01 L57.12,836.91 L50.22,843.81 L43.32,836.91Z" fill="#9a9a9a" stroke="#fff" stroke-width="0.8"/>
<path d="M59.75,820.91 L66.65,827.81 L59.75,834.71 L52.85,827.81Z" fill="#9a9a9a" stroke="#fff" stroke-width="0.8"/>
<path d="M68.85,807.15 L75.75,814.05 L68.85,820.95 L61.95,814.05Z" fill="#9a9a9a" stroke="#fff" stroke-width="0.8"/>
<path d="M96.79,807.79 L103.69,814.69 L96.79,821.59 L89.89,814.69Z" fill="#9a9a9a" stroke="#fff" stroke-width="0.8"/>
<path d="M115.21,809.90 L122.11,816.80 L115.21,823.70 L108.31,816.80Z" fill="#9a9a9a" stroke="#fff" stroke-width="0.8"/>
<path d="M124.31,821.97 L131.21,828.87 L124.31,835.77 L117.41,828.87Z" fill="#9a9a9a" stroke="#fff" stroke-width="0.8"/>
<path d="M133.84,818.79 L140.74,825.69 L133.84,832.59 L126.94,825.69Z" fill="#9a9a9a" stroke="#fff" stroke-width="0.8"/>
<path d="M105.89,873.83 L112.79,880.73 L105.89,887.63 L98.99,880.73Z" fill="#9a9a9a" stroke="#fff" stroke-width="0.8"/>
<path d="M19.5,801.7 L19.5,893.1 L145.5,893.1" fill="none" stroke="#222" stroke-width="1.6"/>
<rect x="191.1" y="801.7" width="125.70000000000002" height="91.39999999999998" fill="#fff"/>
<text x="226.80" y="793.60" font-size="13.7" textLength="53.60" lengthAdjust="spacingAndGlyphs">c2) 2014</text>
<path d="M202.98,830.77 L304.97,866.94" fill="none" stroke="#111" stroke-width="1.9" stroke-linejoin="round"/>
<path d="M202.98,842.87 L209.88,849.77 L202.98,856.67 L196.08,849.77Z" fill="#9a9a9a" stroke="#fff" stroke-width="0.8"/>
<path d="M209.93,853.91 L216.83,860.81 L209.93,867.71 L203.03,860.81Z" fill="#9a9a9a" stroke="#fff" stroke-width="0.8"/>
<path d="M232.01,809.15 L238.91,816.05 L232.01,822.95 L225.11,816.05Z" fill="#9a9a9a" stroke="#fff" stroke-width="0.8"/>
<path d="M239.16,807.11 L246.06,814.01 L239.16,820.91 L232.26,814.01Z" fill="#9a9a9a" stroke="#fff" stroke-width="0.8"/>
<path d="M246.31,817.73 L253.21,824.63 L246.31,831.53 L239.41,824.63Z" fill="#9a9a9a" stroke="#fff" stroke-width="0.8"/>
<path d="M254.08,822.84 L260.98,829.74 L254.08,836.64 L247.18,829.74Z" fill="#9a9a9a" stroke="#fff" stroke-width="0.8"/>
<path d="M261.03,851.86 L267.93,858.76 L261.03,865.66 L254.13,858.76Z" fill="#9a9a9a" stroke="#fff" stroke-width="0.8"/>
<path d="M275.95,865.35 L282.85,872.25 L275.95,879.15 L269.05,872.25Z" fill="#9a9a9a" stroke="#fff" stroke-width="0.8"/>
<path d="M280.03,868.83 L286.93,875.73 L280.03,882.63 L273.13,875.73Z" fill="#9a9a9a" stroke="#fff" stroke-width="0.8"/>
<path d="M283.10,871.89 L290.00,878.79 L283.10,885.69 L276.20,878.79Z" fill="#9a9a9a" stroke="#fff" stroke-width="0.8"/>
<path d="M290.25,873.94 L297.15,880.84 L290.25,887.74 L283.35,880.84Z" fill="#9a9a9a" stroke="#fff" stroke-width="0.8"/>
<path d="M297.41,872.92 L304.31,879.82 L297.41,886.72 L290.51,879.82Z" fill="#9a9a9a" stroke="#fff" stroke-width="0.8"/>
<path d="M304.97,834.08 L311.87,840.98 L304.97,847.88 L298.07,840.98Z" fill="#9a9a9a" stroke="#fff" stroke-width="0.8"/>
<path d="M191.1,801.7 L191.1,893.1 L316.8,893.1" fill="none" stroke="#222" stroke-width="1.6"/>
<rect x="362.2" y="801.7" width="126.10000000000002" height="91.39999999999998" fill="#fff"/>
<text x="398.00" y="793.60" font-size="13.7" textLength="53.20" lengthAdjust="spacingAndGlyphs">c3) 2015</text>
<path d="M385.25,826.06 L475.58,864.49" fill="none" stroke="#111" stroke-width="1.9" stroke-linejoin="round"/>
<path d="M373.80,817.73 L380.70,824.63 L373.80,831.53 L366.90,824.63Z" fill="#9a9a9a" stroke="#fff" stroke-width="0.8"/>
<path d="M381.57,814.26 L388.47,821.16 L381.57,828.06 L374.67,821.16Z" fill="#9a9a9a" stroke="#fff" stroke-width="0.8"/>
<path d="M389.33,823.25 L396.23,830.15 L389.33,837.05 L382.43,830.15Z" fill="#9a9a9a" stroke="#fff" stroke-width="0.8"/>
<path d="M413.25,806.90 L420.15,813.80 L413.25,820.70 L406.35,813.80Z" fill="#9a9a9a" stroke="#fff" stroke-width="0.8"/>
<path d="M420.81,839.19 L427.71,846.09 L420.81,852.99 L413.91,846.09Z" fill="#9a9a9a" stroke="#fff" stroke-width="0.8"/>
<path d="M428.57,847.37 L435.47,854.27 L428.57,861.17 L421.67,854.27Z" fill="#9a9a9a" stroke="#fff" stroke-width="0.8"/>
<path d="M436.34,853.50 L443.24,860.40 L436.34,867.30 L429.44,860.40Z" fill="#9a9a9a" stroke="#fff" stroke-width="0.8"/>
<path d="M444.31,827.95 L451.21,834.85 L444.31,841.75 L437.41,834.85Z" fill="#9a9a9a" stroke="#fff" stroke-width="0.8"/>
<path d="M460.25,873.94 L467.15,880.84 L460.25,887.74 L453.35,880.84Z" fill="#9a9a9a" stroke="#fff" stroke-width="0.8"/>
<path d="M467.81,855.54 L474.71,862.44 L467.81,869.34 L460.91,862.44Z" fill="#9a9a9a" stroke="#fff" stroke-width="0.8"/>
<path d="M475.58,840.83 L482.48,847.73 L475.58,854.63 L468.68,847.73Z" fill="#9a9a9a" stroke="#fff" stroke-width="0.8"/>
<path d="M362.2,801.7 L362.2,893.1 L488.3,893.1" fill="none" stroke="#222" stroke-width="1.6"/>
<rect x="532.8" y="801.7" width="126.5" height="91.39999999999998" fill="#fff"/>
<text x="569.40" y="793.60" font-size="13.7" textLength="53.30" lengthAdjust="spacingAndGlyphs">c4) 2016</text>
<path d="M545.03,858.97 L647.01,867.96" fill="none" stroke="#111" stroke-width="1.9" stroke-linejoin="round"/>
<path d="M545.03,806.90 L551.93,813.80 L545.03,820.70 L538.13,813.80Z" fill="#9a9a9a" stroke="#fff" stroke-width="0.8"/>
<path d="M553.61,855.54 L560.51,862.44 L553.61,869.34 L546.71,862.44Z" fill="#9a9a9a" stroke="#fff" stroke-width="0.8"/>
<path d="M561.79,868.83 L568.69,875.73 L561.79,882.63 L554.89,875.73Z" fill="#9a9a9a" stroke="#fff" stroke-width="0.8"/>
<path d="M570.37,871.89 L577.27,878.79 L570.37,885.69 L563.47,878.79Z" fill="#9a9a9a" stroke="#fff" stroke-width="0.8"/>
<path d="M579.16,869.24 L586.06,876.14 L579.16,883.04 L572.26,876.14Z" fill="#9a9a9a" stroke="#fff" stroke-width="0.8"/>
<path d="M604.71,854.52 L611.61,861.42 L604.71,868.32 L597.81,861.42Z" fill="#9a9a9a" stroke="#fff" stroke-width="0.8"/>
<path d="M613.29,874.35 L620.19,881.25 L613.29,888.15 L606.39,881.25Z" fill="#9a9a9a" stroke="#fff" stroke-width="0.8"/>
<path d="M621.46,859.63 L628.36,866.53 L621.46,873.43 L614.56,866.53Z" fill="#9a9a9a" stroke="#fff" stroke-width="0.8"/>
<path d="M629.64,871.89 L636.54,878.79 L629.64,885.69 L622.74,878.79Z" fill="#9a9a9a" stroke="#fff" stroke-width="0.8"/>
<path d="M638.43,869.44 L645.33,876.34 L638.43,883.24 L631.53,876.34Z" fill="#9a9a9a" stroke="#fff" stroke-width="0.8"/>
<path d="M647.01,821.82 L653.91,828.72 L647.01,835.62 L640.11,828.72Z" fill="#9a9a9a" stroke="#fff" stroke-width="0.8"/>
<path d="M532.8,801.7 L532.8,893.1 L659.3,893.1" fill="none" stroke="#222" stroke-width="1.6"/>
<rect x="19.5" y="960.2" width="126.0" height="91.29999999999995" fill="#fff"/>
<text x="56.00" y="952.30" font-size="13.7" textLength="53.00" lengthAdjust="spacingAndGlyphs">c5) 2017</text>
<path d="M31.80,998.51 L133.84,1011.64" fill="none" stroke="#111" stroke-width="1.9" stroke-linejoin="round"/>
<path d="M31.80,965.15 L38.70,972.05 L31.80,978.95 L24.90,972.05Z" fill="#9a9a9a" stroke="#fff" stroke-width="0.8"/>
<path d="M55.09,1018.07 L61.99,1024.97 L55.09,1031.87 L48.19,1024.97Z" fill="#9a9a9a" stroke="#fff" stroke-width="0.8"/>
<path d="M62.92,1014.90 L69.82,1021.80 L62.92,1028.70 L56.02,1021.80Z" fill="#9a9a9a" stroke="#fff" stroke-width="0.8"/>
<path d="M70.97,1014.26 L77.87,1021.16 L70.97,1028.06 L64.07,1021.16Z" fill="#9a9a9a" stroke="#fff" stroke-width="0.8"/>
<path d="M78.80,986.32 L85.70,993.22 L78.80,1000.12 L71.90,993.22Z" fill="#9a9a9a" stroke="#fff" stroke-width="0.8"/>
<path d="M86.63,982.51 L93.53,989.41 L86.63,996.31 L79.73,989.41Z" fill="#9a9a9a" stroke="#fff" stroke-width="0.8"/>
<path d="M102.08,974.25 L108.98,981.15 L102.08,988.05 L95.18,981.15Z" fill="#9a9a9a" stroke="#fff" stroke-width="0.8"/>
<path d="M109.92,1001.56 L116.82,1008.46 L109.92,1015.36 L103.02,1008.46Z" fill="#9a9a9a" stroke="#fff" stroke-width="0.8"/>
<path d="M117.96,1032.47 L124.86,1039.37 L117.96,1046.27 L111.06,1039.37Z" fill="#9a9a9a" stroke="#fff" stroke-width="0.8"/>
<path d="M126.00,1021.25 L132.90,1028.15 L126.00,1035.05 L119.10,1028.15Z" fill="#9a9a9a" stroke="#fff" stroke-width="0.8"/>
<path d="M133.84,977.85 L140.74,984.75 L133.84,991.65 L126.94,984.75Z" fill="#9a9a9a" stroke="#fff" stroke-width="0.8"/>
<path d="M19.5,960.2 L19.5,1051.5 L145.5,1051.5" fill="none" stroke="#222" stroke-width="1.6"/>
<rect x="191.1" y="960.2" width="125.70000000000002" height="91.29999999999995" fill="#fff"/>
<text x="226.80" y="952.30" font-size="13.7" textLength="53.30" lengthAdjust="spacingAndGlyphs">c6) 2018</text>
<path d="M202.98,1001.03 L297.41,1005.73" fill="none" stroke="#111" stroke-width="1.9" stroke-linejoin="round"/>
<path d="M202.98,1008.43 L209.88,1015.33 L202.98,1022.23 L196.08,1015.33Z" fill="#9a9a9a" stroke="#fff" stroke-width="0.8"/>
<path d="M210.55,978.39 L217.45,985.29 L210.55,992.19 L203.65,985.29Z" fill="#9a9a9a" stroke="#fff" stroke-width="0.8"/>
<path d="M234.05,965.52 L240.95,972.42 L234.05,979.32 L227.15,972.42Z" fill="#9a9a9a" stroke="#fff" stroke-width="0.8"/>
<path d="M241.82,994.54 L248.72,1001.44 L241.82,1008.34 L234.92,1001.44Z" fill="#9a9a9a" stroke="#fff" stroke-width="0.8"/>
<path d="M249.38,998.22 L256.28,1005.12 L249.38,1012.02 L242.48,1005.12Z" fill="#9a9a9a" stroke="#fff" stroke-width="0.8"/>
<path d="M257.55,1032.35 L264.45,1039.25 L257.55,1046.15 L250.65,1039.25Z" fill="#9a9a9a" stroke="#fff" stroke-width="0.8"/>
<path d="M265.73,1024.78 L272.63,1031.68 L265.73,1038.58 L258.83,1031.68Z" fill="#9a9a9a" stroke="#fff" stroke-width="0.8"/>
<path d="M281.06,989.63 L287.96,996.53 L281.06,1003.43 L274.16,996.53Z" fill="#9a9a9a" stroke="#fff" stroke-width="0.8"/>
<path d="M289.23,968.17 L296.13,975.07 L289.23,981.97 L282.33,975.07Z" fill="#9a9a9a" stroke="#fff" stroke-width="0.8"/>
<path d="M297.00,1005.37 L303.90,1012.27 L297.00,1019.17 L290.10,1012.27Z" fill="#9a9a9a" stroke="#fff" stroke-width="0.8"/>
<path d="M304.97,998.83 L311.87,1005.73 L304.97,1012.63 L298.07,1005.73Z" fill="#9a9a9a" stroke="#fff" stroke-width="0.8"/>
<path d="M191.1,960.2 L191.1,1051.5 L316.8,1051.5" fill="none" stroke="#222" stroke-width="1.6"/>
<rect x="362.2" y="960.2" width="126.10000000000002" height="91.29999999999995" fill="#fff"/>
<text x="397.80" y="952.30" font-size="13.7" textLength="54.00" lengthAdjust="spacingAndGlyphs">c7) 2019</text>
<path d="M373.80,990.81 L475.99,1039.86" fill="none" stroke="#111" stroke-width="1.9" stroke-linejoin="round"/>
<path d="M373.80,965.52 L380.70,972.42 L373.80,979.32 L366.90,972.42Z" fill="#9a9a9a" stroke="#fff" stroke-width="0.8"/>
<path d="M382.18,983.91 L389.08,990.81 L382.18,997.71 L375.28,990.81Z" fill="#9a9a9a" stroke="#fff" stroke-width="0.8"/>
<path d="M390.77,1000.26 L397.67,1007.16 L390.77,1014.06 L383.87,1007.16Z" fill="#9a9a9a" stroke="#fff" stroke-width="0.8"/>
<path d="M399.55,999.65 L406.45,1006.55 L399.55,1013.45 L392.65,1006.55Z" fill="#9a9a9a" stroke="#fff" stroke-width="0.8"/>
<path d="M424.90,1014.57 L431.80,1021.47 L424.90,1028.37 L418.00,1021.47Z" fill="#9a9a9a" stroke="#fff" stroke-width="0.8"/>
<path d="M433.28,1025.81 L440.18,1032.71 L433.28,1039.61 L426.38,1032.71Z" fill="#9a9a9a" stroke="#fff" stroke-width="0.8"/>
<path d="M441.45,1019.67 L448.35,1026.57 L441.45,1033.47 L434.55,1026.57Z" fill="#9a9a9a" stroke="#fff" stroke-width="0.8"/>
<path d="M450.03,1029.89 L456.93,1036.79 L450.03,1043.69 L443.13,1036.79Z" fill="#9a9a9a" stroke="#fff" stroke-width="0.8"/>
<path d="M458.62,1026.83 L465.52,1033.73 L458.62,1040.63 L451.72,1033.73Z" fill="#9a9a9a" stroke="#fff" stroke-width="0.8"/>
<path d="M467.41,1026.83 L474.31,1033.73 L467.41,1040.63 L460.51,1033.73Z" fill="#9a9a9a" stroke="#fff" stroke-width="0.8"/>
<path d="M475.99,1008.43 L482.89,1015.33 L475.99,1022.23 L469.09,1015.33Z" fill="#9a9a9a" stroke="#fff" stroke-width="0.8"/>
<path d="M362.2,960.2 L362.2,1051.5 L488.3,1051.5" fill="none" stroke="#222" stroke-width="1.6"/>
<rect x="532.8" y="960.2" width="126.5" height="91.29999999999995" fill="#fff"/>
<text x="569.40" y="952.30" font-size="13.7" textLength="53.60" lengthAdjust="spacingAndGlyphs">c8) 2020</text>
<path d="M545.03,989.79 L647.01,1037.20" fill="none" stroke="#111" stroke-width="1.9" stroke-linejoin="round"/>
<path d="M545.03,965.52 L551.93,972.42 L545.03,979.32 L538.13,972.42Z" fill="#9a9a9a" stroke="#fff" stroke-width="0.8"/>
<path d="M568.33,993.51 L575.23,1000.41 L568.33,1007.31 L561.43,1000.41Z" fill="#9a9a9a" stroke="#fff" stroke-width="0.8"/>
<path d="M576.50,995.15 L583.40,1002.05 L576.50,1008.95 L569.60,1002.05Z" fill="#9a9a9a" stroke="#fff" stroke-width="0.8"/>
<path d="M584.27,1010.48 L591.17,1017.38 L584.27,1024.28 L577.37,1017.38Z" fill="#9a9a9a" stroke="#fff" stroke-width="0.8"/>
<path d="M592.03,1023.76 L598.93,1030.66 L592.03,1037.56 L585.13,1030.66Z" fill="#9a9a9a" stroke="#fff" stroke-width="0.8"/>
<path d="M600.21,1025.81 L607.11,1032.71 L600.21,1039.61 L593.31,1032.71Z" fill="#9a9a9a" stroke="#fff" stroke-width="0.8"/>
<path d="M614.92,1011.09 L621.82,1017.99 L614.92,1024.89 L608.02,1017.99Z" fill="#9a9a9a" stroke="#fff" stroke-width="0.8"/>
<path d="M623.10,1004.96 L630.00,1011.86 L623.10,1018.76 L616.20,1011.86Z" fill="#9a9a9a" stroke="#fff" stroke-width="0.8"/>
<path d="M631.27,1024.78 L638.17,1031.68 L631.27,1038.58 L624.37,1031.68Z" fill="#9a9a9a" stroke="#fff" stroke-width="0.8"/>
<path d="M639.45,1032.35 L646.35,1039.25 L639.45,1046.15 L632.55,1039.25Z" fill="#9a9a9a" stroke="#fff" stroke-width="0.8"/>
<path d="M647.01,1018.04 L653.91,1024.94 L647.01,1031.84 L640.11,1024.94Z" fill="#9a9a9a" stroke="#fff" stroke-width="0.8"/>
<path d="M532.8,960.2 L532.8,1051.5 L659.3,1051.5" fill="none" stroke="#222" stroke-width="1.6"/>
</svg>
</body></html>
